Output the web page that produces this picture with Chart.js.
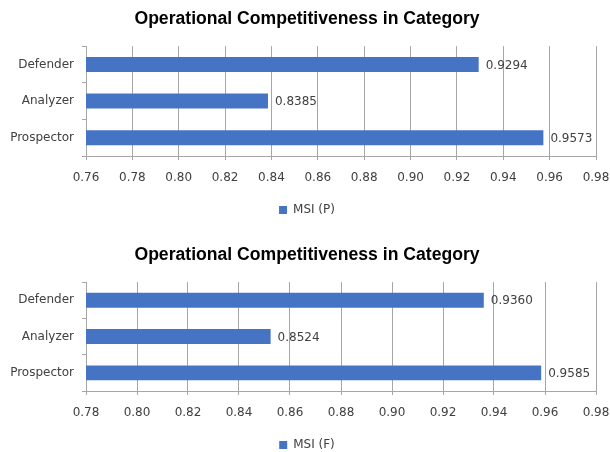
<!DOCTYPE html>
<html>
<head>
<meta charset="utf-8">
<script src="https://cdn.jsdelivr.net/npm/chart.js@4.4.1/dist/chart.umd.min.js"></script>
<style>
  html, body { margin: 0; padding: 0; background: #fff; overflow: hidden; }
  .box { position: absolute; left: 0; width: 610px; height: 226px; }
</style>
</head>
<body>
<div class="box" style="top:0"><canvas id="chartP" width="610" height="226"></canvas></div>
<div class="box" style="top:235px"><canvas id="chartF" width="610" height="226"></canvas></div>
<script>
const categories = ["Defender", "Analyzer", "Prospector"]
const msiP = [0.9294, 0.8385, 0.9573]
const msiF = [0.9360, 0.8524, 0.9585]
const ticksP = [0.76, 0.98]   // min / max of the top axis
const ticksF = [0.78, 0.98]   // min / max of the bottom axis
const titleText = "Operational Competitiveness in Category"

const barColor = "#4674c4"
const gridColor = "#a6a6a6"
const textColor = "#404040"
const font = "'DejaVu Sans', sans-serif"

// writes the value next to the end of every bar
const valueLabels = {
  id: "valueLabels",
  afterDatasetsDraw(chart) {
    const ctx = chart.ctx
    ctx.save()
    ctx.font = "12px " + font
    ctx.fillStyle = textColor
    ctx.textBaseline = "middle"
    chart.getDatasetMeta(0).data.forEach((bar, i) => {
      const v = chart.data.datasets[0].data[i]
      ctx.fillText(v.toFixed(4), bar.x + 7, bar.y + 1)
    })
    ctx.restore()
  }
}

// lay = sizes that differ a bit between the two charts
function makeChart(id, label, data, range, lay) {
  return new Chart(document.getElementById(id), {
    type: "bar",
    data: {
      labels: categories,
      datasets: [{
        label: label,
        data: data,
        backgroundColor: barColor,
        borderWidth: 0,
        categoryPercentage: 1,
        barPercentage: 0.41
      }]
    },
    options: {
      indexAxis: "y",
      responsive: false,
      animation: false,
      layout: { padding: { left: 4, right: 0, top: 0, bottom: 0 } },
      scales: {
        x: {
          min: range[0],
          max: range[1],
          ticks: {
            stepSize: 0.02,
            color: textColor,
            padding: 11,
            font: { family: font, size: 12 },
            callback: v => v.toFixed(2)
          },
          grid: { color: gridColor, tickLength: 4, tickColor: gridColor },
          border: { color: gridColor },
          afterFit(axis) {
            axis.height = lay.axisH
            axis.paddingRight = 14
          }
        },
        y: {
          ticks: {
            color: textColor,
            padding: 8,
            font: { family: font, size: 12 }
          },
          grid: { drawOnChartArea: false, offset: true, tickLength: 4, tickColor: gridColor },
          border: { color: gridColor },
          afterFit(axis) { axis.width = 82 }
        }
      },
      plugins: {
        title: {
          display: true,
          text: titleText,
          color: "#000",
          font: { family: "'Liberation Sans', Arial, sans-serif", size: 17.6, weight: "bold" },
          padding: { top: lay.titleTop, bottom: 16 }
        },
        legend: {
          position: "bottom",
          labels: {
            boxWidth: 8,
            boxHeight: 8,
            color: textColor,
            font: { family: font, size: 12 },
            padding: 11
          }
        },
        tooltip: { enabled: false }
      }
    },
    plugins: [valueLabels]
  })
}

makeChart("chartP", "MSI (P)", msiP, ticksP, { titleTop: 9, axisH: 37 })
makeChart("chartF", "MSI (F)", msiF, ticksF, { titleTop: 10, axisH: 37 })
</script>
</body>
</html>
